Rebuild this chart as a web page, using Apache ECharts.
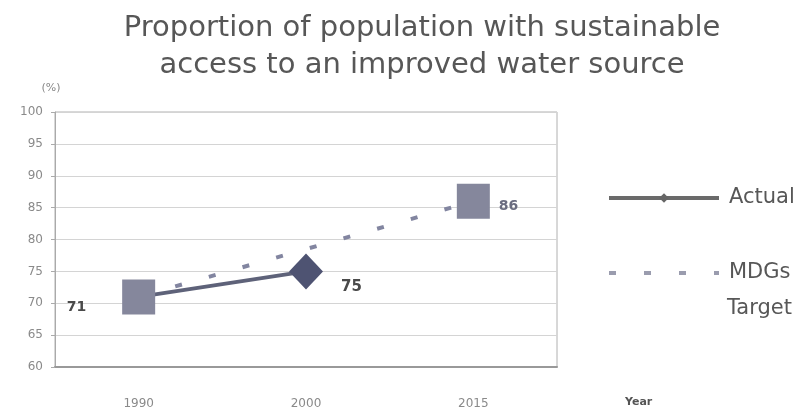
<!DOCTYPE html>
<html>
<head>
<meta charset="utf-8">
<script src="https://cdn.jsdelivr.net/npm/echarts@6/dist/echarts.min.js"></script>
<style>
  html, body { margin: 0; padding: 0; background: #ffffff; }
  #chart { width: 800px; height: 415px; }
</style>
</head>
<body>
<div id="chart"></div>
<script>
// Survey years on the category axis
const years = ['1990', '2000', '2015'];
// Observed coverage (%)
const actualValues = [71, 75, null];
// MDG target path: baseline and 2015 goal (%)
const targetValues = [71, null, 86];
// Value axis ticks (%)
const yMin = 60, yMax = 100, yStep = 5;

const FONT = '"DejaVu Sans", "Liberation Sans", sans-serif';

const actualData = actualValues.map((v, i) => {
  if (v === null) return null;
  const item = { value: v };
  if (i === 0) {
    item.symbol = 'none';
  } else {
    item.symbolSize = [34, 36];
    item.label = {
      show: true, position: 'right', distance: 14, offset: [4, 16],
      fontSize: 15, fontWeight: 'bold', color: '#4a4a4a', fontFamily: FONT
    };
  }
  return item;
});

const targetData = targetValues.map((v, i) => {
  if (v === null) return null;
  const item = { value: v };
  if (i === 0) {
    item.label = {
      show: true, position: 'left', distance: 36, offset: [0, 10],
      fontSize: 14, fontWeight: 'bold', color: '#4a4a4a', fontFamily: FONT
    };
  } else {
    item.label = {
      show: true, position: 'right', distance: 9, offset: [0, 5],
      fontSize: 14, fontWeight: 'bold', color: '#6a6c80', fontFamily: FONT
    };
  }
  return item;
});

const chart = echarts.init(document.getElementById('chart'), null, { renderer: 'canvas' });

chart.setOption({
  backgroundColor: '#ffffff',
  animation: false,
  title: {
    text: 'Proportion of population with sustainable\naccess to an improved water source',
    left: 422,
    top: 10,
    padding: 0,
    textAlign: 'center',
    textStyle: {
      fontFamily: FONT, fontSize: 29, fontWeight: 'normal',
      color: '#575757', lineHeight: 37, align: 'center'
    }
  },
  grid: { left: 55, right: 243, top: 112, bottom: 48, show: true, borderColor: '#b0b0b0', borderWidth: 1 },
  legend: {
    orient: 'vertical',
    left: 607,
    top: 185,
    padding: 0,
    itemWidth: 110,
    itemHeight: 12,
    itemGap: 49,
    formatter: name => name === 'MDGs Target' ? 'MDGs' : name,
    textStyle: { fontFamily: FONT, fontSize: 21, color: '#575757', lineHeight: 26, padding: [0, 0, 0, 5] },
    data: [
      { name: 'Actual', itemStyle: { color: '#666' }, lineStyle: { width: 4, color: '#6a6a6a' } },
      { name: 'MDGs Target', itemStyle: { opacity: 0 }, lineStyle: { width: 4, color: '#9a9cae', type: [7, 28], dashOffset: 0 } }
    ]
  },
  xAxis: {
    type: 'category',
    data: years,
    boundaryGap: true,
    axisLine: { lineStyle: { color: '#999', width: 2 } },
    axisTick: { show: false },
    axisLabel: { fontFamily: FONT, fontSize: 12, color: '#8a8a8a', margin: 31 }
  },
  yAxis: {
    type: 'value',
    min: yMin,
    max: yMax,
    interval: yStep,
    name: '(%)',
    nameLocation: 'end',
    nameGap: 24,
    nameTextStyle: {
      fontFamily: FONT, fontSize: 11, color: '#888',
      align: 'center', verticalAlign: 'middle', padding: [0, 8, 0, 0]
    },
    axisLine: { show: true, lineStyle: { color: '#aaa', width: 1 } },
    axisTick: { show: true, length: 4, lineStyle: { color: '#aaa' } },
    axisLabel: { fontFamily: FONT, fontSize: 12, color: '#8a8a8a', margin: 12 },
    splitLine: { lineStyle: { color: '#d4d4d4', width: 1 } }
  },
  series: [
    {
      name: 'Actual',
      type: 'line',
      data: actualData,
      z: 3,
      symbol: 'diamond',
      symbolSize: [34, 36],
      lineStyle: { color: '#5e6279', width: 4 },
      itemStyle: { color: '#4e5372' }
    },
    {
      name: 'MDGs Target',
      type: 'line',
      data: targetData,
      connectNulls: true,
      z: 4,
      symbol: 'rect',
      symbolSize: [33, 35],
      lineStyle: { color: '#8285a0', width: 4, type: [7, 28], dashOffset: -3 },
      itemStyle: { color: '#85879c' }
    }
  ],
  graphic: [
    {
      type: 'text',
      left: 727,
      top: 298,
      style: { text: 'Target', font: '21px ' + FONT, fill: '#575757' }
    },
    {
      type: 'text',
      left: 625,
      top: 397,
      style: { text: 'Year', font: 'bold 11px ' + FONT, fill: '#555' }
    }
  ]
});
</script>
</body>
</html>
